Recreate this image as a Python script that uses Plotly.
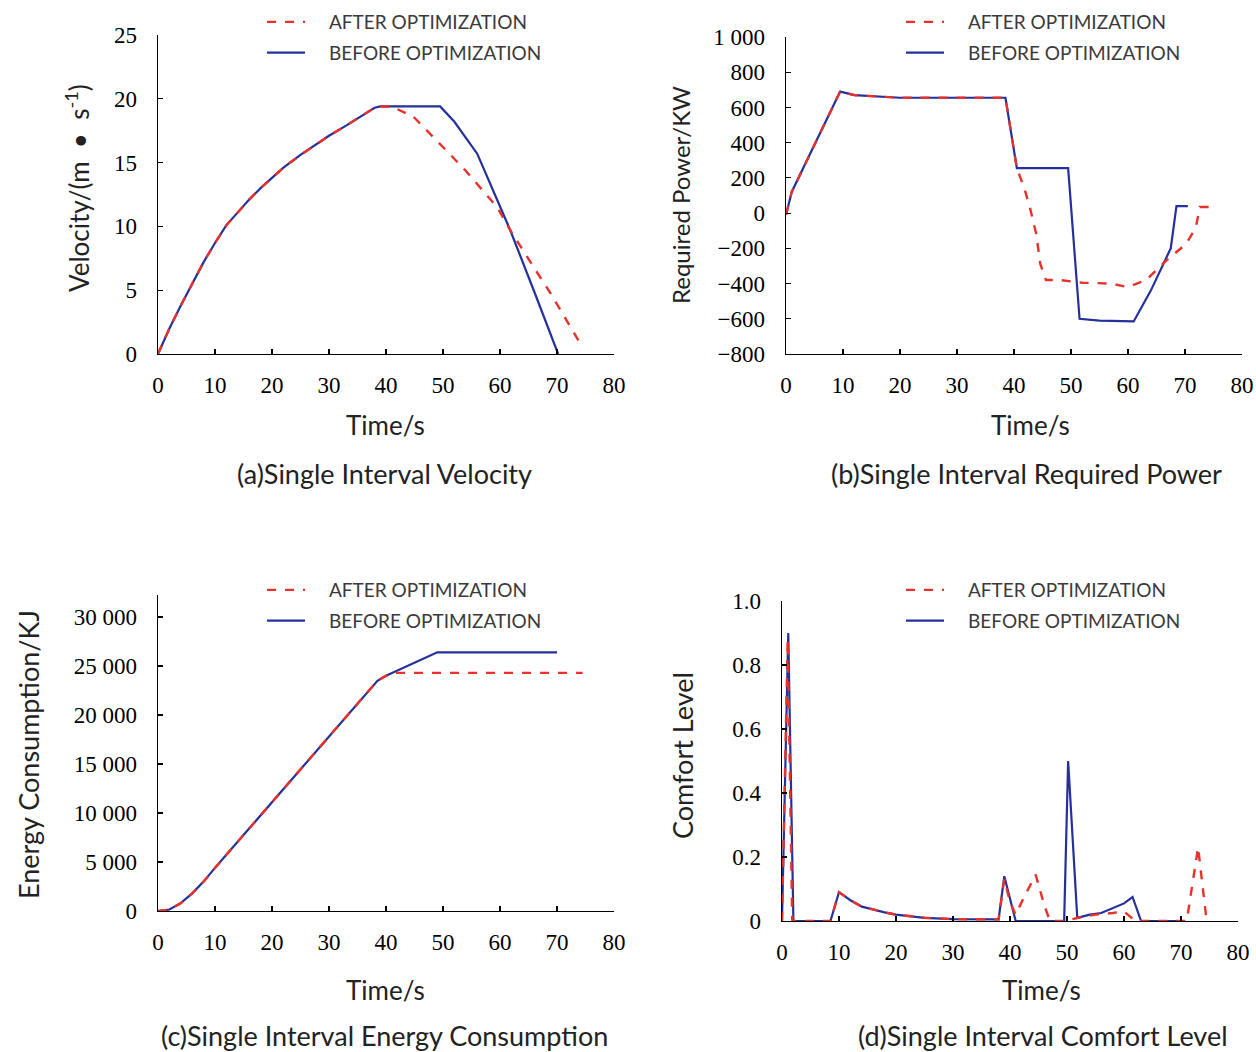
import plotly.graph_objects as go

# ---------------- data ----------------
# (a) velocity
t_vel_before = [0, 2, 4, 6, 8, 10, 12, 14, 16, 18, 20, 22, 25, 28, 30, 33, 36, 38, 39, 49.5, 52, 56, 59, 61.8, 66, 70.2]
v_before = [0, 2.0, 3.8, 5.5, 7.2, 8.7, 10.1, 11.1, 12.1, 13.0, 13.8, 14.6, 15.6, 16.5, 17.1, 17.9, 18.7, 19.3, 19.4, 19.4, 18.2, 15.7, 12.6, 9.7, 4.9, 0]
t_vel_after = [0, 2, 4, 6, 8, 10, 12, 14, 16, 18, 20, 22, 25, 28, 30, 33, 36, 38, 39, 41, 44.8, 47.7, 50.9, 53.9, 56.8, 59.5, 61.8, 64, 66.5, 68.8, 71, 73.2, 74.5]
v_after = [0, 2.0, 3.8, 5.5, 7.2, 8.7, 10.1, 11.1, 12.1, 13.0, 13.8, 14.6, 15.6, 16.5, 17.1, 17.9, 18.7, 19.3, 19.4, 19.4, 18.6, 17.3, 15.8, 14.4, 12.9, 11.5, 9.7, 8.2, 6.4, 4.8, 3.1, 1.5, 0.5]

# (b) required power
t_pow_before = [0, 1, 9.5, 12, 20, 30, 38.5, 40.5, 49.5, 51.5, 55, 61, 64, 67.5, 68.5, 70.5]
p_before = [-10, 120, 690, 670, 655, 655, 655, 255, 255, -600, -610, -615, -440, -200, 40, 40]
t_pow_after = [0, 1, 9.5, 12, 20, 30, 38.5, 40.5, 41.8, 42.8, 43.9, 44.6, 45.6, 48, 52, 57, 60, 63.2, 66.7, 70.2, 71.9, 72.6, 74.5]
p_after = [-10, 120, 690, 670, 655, 655, 655, 255, 142, 30, -119, -287, -380, -380, -395, -400, -420, -380, -270, -175, -82, 35, 35]

# (c) energy consumption
t_en_before = [0, 2, 4, 6, 8, 10, 15, 20, 25, 30, 35, 38.5, 40, 45, 49, 70]
e_before = [0, 150, 800, 1800, 3000, 4400, 7750, 11100, 14450, 17800, 21150, 23500, 24000, 25350, 26400, 26400]
t_en_after = [0, 2, 4, 6, 8, 10, 15, 20, 25, 30, 35, 38.5, 40, 41.5, 74.5]
e_after = [0, 150, 800, 1800, 3000, 4400, 7750, 11100, 14450, 17800, 21150, 23500, 24000, 24300, 24300]

# (d) comfort level
t_cf_before = [0, 1.1, 2.0, 8.5, 10, 12, 14, 16, 18, 20, 25, 30, 35, 38, 39, 40.2, 41, 49.5, 50.2, 51.8, 54, 56, 58, 60, 61.5, 63, 70]
c_before = [0, 0.9, 0, 0, 0.09, 0.065, 0.045, 0.035, 0.027, 0.02, 0.01, 0.006, 0.005, 0.005, 0.14, 0.05, 0, 0, 0.5, 0.01, 0.02, 0.025, 0.04, 0.055, 0.075, 0, 0]
t_cf_after = [0, 1.0, 1.8, 8.5, 10, 12, 14, 16, 18, 20, 25, 30, 35, 38, 39, 40, 41, 42.2, 44.5, 46, 47, 49.5, 52, 55, 58, 60, 62, 71, 73, 74.5]
c_after = [0, 0.88, 0, 0, 0.09, 0.065, 0.045, 0.035, 0.027, 0.02, 0.01, 0.006, 0.005, 0.005, 0.13, 0.06, 0.02, 0.065, 0.145, 0.05, 0, 0, 0.01, 0.02, 0.025, 0.03, 0, 0, 0.23, 0]

x_ticks = [0, 10, 20, 30, 40, 50, 60, 70, 80]
vel_ticks = [0, 5, 10, 15, 20, 25]
pow_ticks = [1000, 800, 600, 400, 200, 0, -200, -400, -600, -800]
pow_ticktext = ["1 000", "800", "600", "400", "200", "0", "\u2212200", "\u2212400", "\u2212600", "\u2212800"]
en_ticks = [0, 5000, 10000, 15000, 20000, 25000, 30000]
en_ticktext = ["0", "5 000", "10 000", "15 000", "20 000", "25 000", "30 000"]
cf_ticks = [0, 0.2, 0.4, 0.6, 0.8, 1.0]
cf_ticktext = ["0", "0.2", "0.4", "0.6", "0.8", "1.0"]

NAME_AFTER = "AFTER OPTIMIZATION"
NAME_BEFORE = "BEFORE OPTIMIZATION"
captions = ["(a)Single Interval Velocity", "(b)Single Interval Required Power",
            "(c)Single Interval Energy Consumption", "(d)Single Interval Comfort Level"]
y_titles = ["Velocity/(m \u00a0\u2022\u00a0 s<sup>-1</sup>)", "Required Power/KW", "Energy Consumption/KJ", "Comfort Level"]

# ---------------- style ----------------
W, H = 1256, 1052
BLUE = "#25309a"
RED = "#e8312b"
SERIF = "Liberation Serif"
SANS = "Lato"
LEG_PAD = "\u2002\u2002"

def px_x(p):
    return p / W

def px_y(p):
    return 1 - p / H

fig = go.Figure()

panels = [
    (t_vel_before, v_before, t_vel_after, v_after, "x", "y", "legend"),
    (t_pow_before, p_before, t_pow_after, p_after, "x2", "y2", "legend2"),
    (t_en_before, e_before, t_en_after, e_after, "x3", "y3", "legend3"),
    (t_cf_before, c_before, t_cf_after, c_after, "x4", "y4", "legend4"),
]
for tb, yb, ta, ya, xa, ya_, lg in panels:
    fig.add_trace(go.Scatter(x=tb, y=yb, mode="lines", name=LEG_PAD + NAME_BEFORE,
                             line=dict(color=BLUE, width=2.2), xaxis=xa, yaxis=ya_,
                             legend=lg, legendgroup="b", legendrank=2))
    fig.add_trace(go.Scatter(x=ta, y=ya, mode="lines", name=LEG_PAD + NAME_AFTER,
                             line=dict(color=RED, width=2.4, dash="dash"), xaxis=xa, yaxis=ya_,
                             legend=lg, legendgroup="a", legendrank=1))

# pixel geometry of each panel: (left, right, top, bottom)
geo = [
    (158, 614, 35, 354),
    (786, 1242, 37, 354),
    (158, 614, 595, 911),
    (782, 1238, 601, 921),
]

axis_common = dict(showline=True, linecolor="black", linewidth=1.4, ticks="inside",
                   ticklen=5, tickcolor="black", tickwidth=1.2, showgrid=False, zeroline=False,
                   automargin=False, tickfont=dict(family=SERIF, size=23, color="black"))

yranges = [[0, 25], [-800, 1000], [0, 32250], [0, 1.0]]
ytickvals = [vel_ticks, pow_ticks, en_ticks, cf_ticks]
yticktexts = [[str(v) for v in vel_ticks], pow_ticktext, en_ticktext, cf_ticktext]

layout = dict(template="none", width=W, height=H,
              margin=dict(l=0, r=0, t=0, b=0, pad=0, autoexpand=False),
              paper_bgcolor="white", plot_bgcolor="white", font=dict(family=SANS),
              hovermode=False)
for i, (l, r, t, b) in enumerate(geo):
    sx = "" if i == 0 else str(i + 1)
    layout["xaxis" + sx] = dict(axis_common, domain=[px_x(l), px_x(r)], range=[0, 80],
                                tickvals=x_ticks, anchor="y" + sx, ticklabelstandoff=10)
    layout["yaxis" + sx] = dict(axis_common, domain=[px_y(b), px_y(t)], range=yranges[i],
                                tickvals=ytickvals[i], ticktext=yticktexts[i], anchor="x" + sx,
                                ticklabelstandoff=15)

legend_pos = [(262, 3), (901, 3), (262, 571), (901, 571)]
for i, (lx, ly) in enumerate(legend_pos):
    key = "legend" if i == 0 else "legend" + str(i + 1)
    layout[key] = dict(x=px_x(lx), y=px_y(ly), xanchor="left", yanchor="top",
                       bgcolor="rgba(0,0,0,0)", font=dict(family=SANS, size=19, color="#3a3a3a"),
                       traceorder="grouped", tracegroupgap=3, itemwidth=38)

fig.update_layout(**layout)

# axis titles and captions
ann = []
xtitle_pos = [(385, 425), (1030, 425), (385, 990), (1041, 990)]
ytitle_pos = [(78, 188), (680, 195), (28, 755), (682, 756)]
ytitle_size = [26, 24, 27, 27]
cap_pos = [(384, 473), (1026, 473), (384, 1035), (1043, 1035)]
for i in range(4):
    ann.append(dict(text="Time/s", x=px_x(xtitle_pos[i][0]), y=px_y(xtitle_pos[i][1]),
                    xref="paper", yref="paper", showarrow=False, xanchor="center", yanchor="middle",
                    font=dict(family=SANS, size=26, color="#222222")))
    ann.append(dict(text=y_titles[i], x=px_x(ytitle_pos[i][0]), y=px_y(ytitle_pos[i][1]),
                    xref="paper", yref="paper", showarrow=False, xanchor="center", yanchor="middle",
                    textangle=-90, font=dict(family=SANS, size=ytitle_size[i], color="#222222")))
    ann.append(dict(text=captions[i], x=px_x(cap_pos[i][0]), y=px_y(cap_pos[i][1]),
                    xref="paper", yref="paper", showarrow=False, xanchor="center", yanchor="middle",
                    font=dict(family=SANS, size=27, color="#222222")))
fig.update_layout(annotations=ann)

fig.write_html("out.html", config={"displayModeBar": False, "staticPlot": True},
               post_script="document.body.style.margin='0px';")
